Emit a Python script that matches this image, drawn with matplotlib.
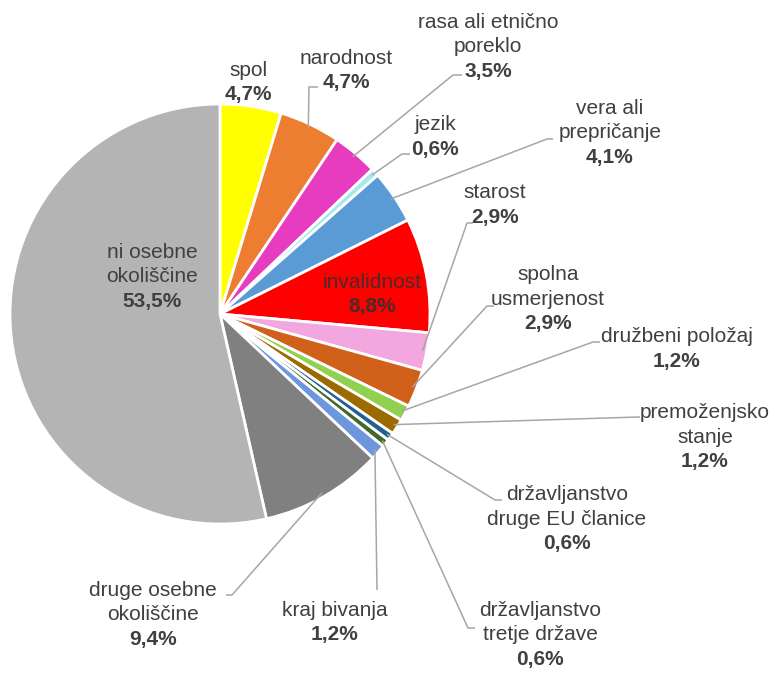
import numpy as np
import matplotlib.pyplot as plt

plt.rcParams['font.family'] = ['Liberation Sans', 'DejaVu Sans']

# data
categories = ['spol', 'narodnost', 'rasa ali etnično\nporeklo', 'jezik',
              'vera ali\nprepričanje', 'invalidnost', 'starost',
              'spolna\nusmerjenost', 'družbeni položaj', 'premoženjsko\nstanje',
              'državljanstvo\ndruge EU članice', 'državljanstvo\ntretje države',
              'kraj bivanja', 'druge osebne\nokoliščine', 'ni osebne\nokoliščine']
values = [4.7, 4.7, 3.5, 0.6, 4.1, 8.8, 2.9, 2.9, 1.2, 1.2, 0.6, 0.6, 1.2, 9.4, 53.5]
colors = ['#FFFF00', '#ED7D31', '#E83CC0', '#A6E8EE', '#5B9BD5', '#FF0000',
          '#F2A7DE', '#D0601A', '#92D050', '#9C6B00', '#255E91', '#43682B',
          '#6E96DC', '#808080', '#B4B4B4']

# layout in image pixels: text centre x, first line y, elbow of leader (or None), end x
text_pos = [(248, 70), (346, 58), (488, 22), (435, 125), (610, 108), (372, 282),
            (495, 193), (548, 275), (677, 337), (705, 413), (567, 495),
            (540, 610), (335, 610), (153, 590), (152, 252)]
leaders = [None, (309, 87, 318), (453, 75, 462), (402, 154, 410), (547, 139, 553),
           None, (467, 223, 473), (487, 306, 494), (593, 342, 600), (638, 417, 640),
           (495, 500, 502), (468, 628, 475), (377, 590, 377), (232, 595, 226), None]

W, H = 777, 680
cx, cy, R = 220, 314, 210


def Y(y):
    return H - y


fig = plt.figure(figsize=(7.77, 6.8), dpi=100)
ax = fig.add_axes([0, 0, 1, 1])

wedges, _ = ax.pie(values, colors=colors, startangle=90, counterclock=False,
                   center=(cx, Y(cy)), radius=R, frame=True,
                   wedgeprops=dict(edgecolor='white', linewidth=2))
ax.set_xlim(0, W)
ax.set_ylim(0, H)
ax.set_aspect('equal')
ax.axis('off')

txt_col = '#404040'
line_col = '#A6A6A6'
lh = 24.5

for i, (cat, v) in enumerate(zip(categories, values)):
    lines = cat.split('\n') + [f'{v:.1f}'.replace('.', ',') + '%']
    tx, ty = text_pos[i]
    col = '#4a2a2a' if cat == 'invalidnost' else txt_col
    for j, ln in enumerate(lines):
        bold = j == len(lines) - 1
        ax.text(tx, Y(ty + j * lh), ln, ha='center', va='center', fontsize=15,
                color=col, fontweight='bold' if bold else 'normal')
    ld = leaders[i]
    if ld is not None:
        w = wedges[i]
        mid = np.deg2rad((w.theta1 + w.theta2) / 2)
        ax_ = cx + R * 0.98 * np.cos(mid)
        ay_ = Y(cy) + R * 0.98 * np.sin(mid)
        ex, ey, hx = ld
        ax.plot([ax_, ex, hx], [ay_, Y(ey), Y(ey)], color=line_col, lw=1.1,
                solid_capstyle='butt')

fig.savefig('out.png', dpi=100, facecolor='white')
